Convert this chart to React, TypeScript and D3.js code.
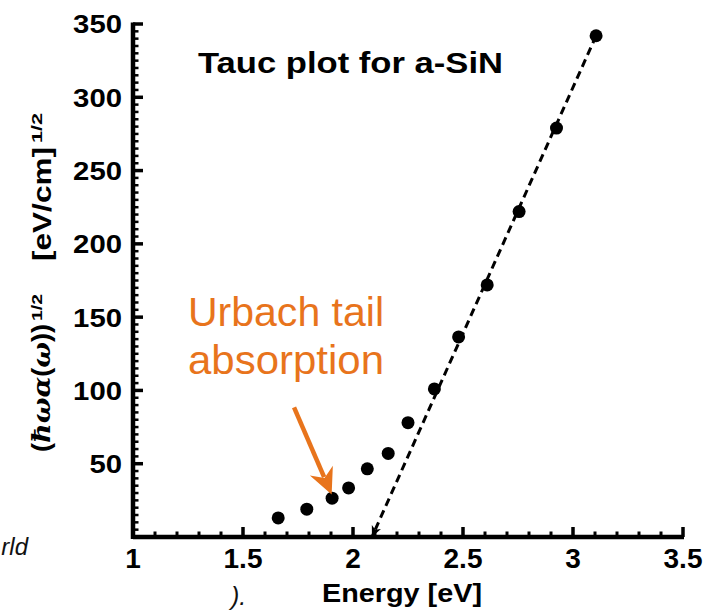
import React from 'react';
import * as d3 from 'd3';

// Measured Tauc-plot data (photon energy in eV, (ħωα(ω))^1/2 in [eV/cm]^1/2)
const energy = [1.66, 1.79, 1.905, 1.98, 2.065, 2.16, 2.25, 2.37, 2.48, 2.61, 2.755, 2.925, 3.105];
const taucValue = [13, 19, 26.5, 33.5, 46.5, 57, 78, 101, 136.5, 172, 222, 279, 342];

// Linear fit (extrapolated to the energy axis)
const fitEnergy = [3.105, 2.086];
const fitValue = [342, 0];

// Axis ticks
const xTicks = [1, 1.5, 2, 2.5, 3, 3.5];
const xTickLabels = ['1', '1.5', '2', '2.5', '3', '3.5'];
const yTicks = [50, 100, 150, 200, 250, 300, 350];
const yTickLabels = ['50', '100', '150', '200', '250', '300', '350'];

// Annotation (data coordinates)
const arrowTail = [1.732, 88.5];
const arrowTip = [1.903, 29];

const ORANGE = '#e8741c';
const FONT = 'Liberation Sans, Arial, Helvetica, sans-serif';

export default function App() {
  const W = 708;
  const H = 613;
  const x = d3.scaleLinear().domain([1, 3.5]).range([133, 683]);
  const y = d3.scaleLinear().domain([0, 350]).range([537, 24]);

  const xMinor = d3.range(1, 3.5001, 0.1).filter((v) => Math.abs(v * 2 - Math.round(v * 2)) > 1e-6);
  const yMinor = d3.range(0, 350.001, 5).filter((v) => v % 50 !== 0);

  const fitLine = d3
    .line<number>()
    .x((_, i) => x(fitEnergy[i]))
    .y((_, i) => y(fitValue[i]));

  // orange arrow geometry
  const tx = x(arrowTail[0]);
  const ty = y(arrowTail[1]);
  const px = x(arrowTip[0]);
  const py = y(arrowTip[1]);
  const len = Math.hypot(px - tx, py - ty);
  const ux = (px - tx) / len;
  const uy = (py - ty) / len;
  const nx = -uy;
  const ny = ux;
  const headL = 26;
  const headW = 12.5;
  const notch = 18;
  const bx = px - ux * headL;
  const by = py - uy * headL;
  const headPath = `M${px},${py} L${bx + nx * headW},${by + ny * headW} L${px - ux * notch},${py - uy * notch} L${bx - nx * headW},${by - ny * headW} Z`;

  const axisX0 = x(1);
  const axisY0 = y(0);

  return (
    <svg
      width={W}
      height={H}
      style={{ position: 'absolute', left: 0, top: 0, background: '#fff' }}
      fontFamily={FONT}
    >
      <defs>
        <marker
          id="fitArrow"
          markerUnits="userSpaceOnUse"
          markerWidth="12"
          markerHeight="12"
          viewBox="0 0 12 12"
          refX="11"
          refY="6"
          orient="auto"
        >
          <path d="M0,1 L11,6 L0,11 L3,6 Z" fill="#000" />
        </marker>
      </defs>

      {/* cropped surrounding text fragments */}
      <text x={28} y={555} fontSize={24} fontStyle="italic" textAnchor="end" fill="#111">
        rld
      </text>
      <text x={231} y={605} fontSize={25} fontStyle="italic" fill="#111">
        ).
      </text>

      {/* title */}
      <text x={198} y={73} fontSize={30} fontWeight="bold" textLength={305} lengthAdjust="spacingAndGlyphs">
        Tauc plot for a-SiN
      </text>

      {/* fit line */}
      <path
        d={fitLine(fitEnergy) || ''}
        fill="none"
        stroke="#000"
        strokeWidth={3}
        strokeDasharray="8 5"
        markerEnd="url(#fitArrow)"
      />

      {/* data points */}
      {energy.map((e, i) => (
        <circle key={i} cx={x(e)} cy={y(taucValue[i])} r={6.5} fill="#000" />
      ))}

      {/* axes */}
      <g stroke="#000">
        {xMinor.map((v, i) => (
          <line key={'xm' + i} x1={x(v)} x2={x(v)} y1={axisY0} y2={axisY0 - 5.5} strokeWidth={3} />
        ))}
        {xTicks.map((v, i) => (
          <line key={'xM' + i} x1={x(v)} x2={x(v)} y1={axisY0} y2={axisY0 - 10} strokeWidth={3.5} />
        ))}
        {yMinor.map((v, i) => (
          <line key={'ym' + i} x1={axisX0} x2={axisX0 + 5.5} y1={y(v)} y2={y(v)} strokeWidth={2.5} />
        ))}
        {yTicks.map((v, i) => (
          <line key={'yM' + i} x1={axisX0} x2={axisX0 + 10} y1={y(v)} y2={y(v)} strokeWidth={3.5} />
        ))}
        <line x1={axisX0} x2={x(3.5) + 1} y1={axisY0} y2={axisY0} strokeWidth={4.5} />
        <line x1={axisX0} x2={axisX0} y1={axisY0 + 2} y2={y(350) - 1.5} strokeWidth={4.5} />
      </g>

      {/* tick labels */}
      {xTicks.map((v, i) => (
        <text key={'xl' + i} x={x(v)} y={568} fontSize={28} fontWeight="bold" textAnchor="middle">
          {xTickLabels[i]}
        </text>
      ))}
      {yTicks.map((v, i) => (
        <text
          key={'yl' + i}
          x={122}
          y={y(v)}
          dy="0.36em"
          fontSize={26}
          fontWeight="bold"
          textAnchor="end"
          textLength={yTickLabels[i].length * 16.3}
          lengthAdjust="spacingAndGlyphs"
        >
          {yTickLabels[i]}
        </text>
      ))}

      {/* axis titles */}
      <text x={322} y={602} fontSize={26} fontWeight="bold" textLength={160} lengthAdjust="spacingAndGlyphs">
        Energy [eV]
      </text>

      <g fontWeight="bold">
        <text
          transform="translate(50,452) rotate(-90)"
          fontSize={25}
          textLength={128}
          lengthAdjust="spacingAndGlyphs"
        >
          (<tspan fontStyle="italic" fontFamily="DejaVu Serif, serif">ħωα</tspan>(<tspan fontStyle="italic" fontFamily="DejaVu Serif, serif">ω</tspan>))
        </text>
        <text transform="translate(42,321) rotate(-90)" fontSize={15} textLength={27} lengthAdjust="spacingAndGlyphs">
          1/2
        </text>
        <text transform="translate(51,261) rotate(-90)" fontSize={25} textLength={114} lengthAdjust="spacingAndGlyphs">
          [eV/cm]
        </text>
        <text transform="translate(42,143) rotate(-90)" fontSize={15} textLength={30} lengthAdjust="spacingAndGlyphs">
          1/2
        </text>
      </g>

      {/* annotation */}
      <text x={188} y={326} fontSize={40} fill={ORANGE} textLength={196} lengthAdjust="spacingAndGlyphs">
        Urbach tail
      </text>
      <text x={188} y={374} fontSize={40} fill={ORANGE} textLength={196} lengthAdjust="spacingAndGlyphs">
        absorption
      </text>
      <line
        x1={tx}
        y1={ty}
        x2={px - ux * (notch + 1)}
        y2={py - uy * (notch + 1)}
        stroke={ORANGE}
        strokeWidth={4.5}
      />
      <path d={headPath} fill={ORANGE} />
    </svg>
  );
}
